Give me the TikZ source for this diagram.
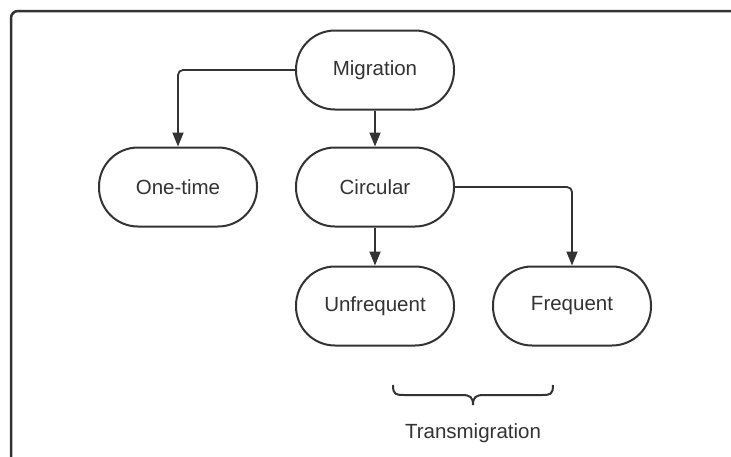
\documentclass[tikz,border=0pt]{standalone}
\usepackage{fontspec}
\setmainfont{Liberation Sans}
\usetikzlibrary{arrows.meta}
\definecolor{ink}{HTML}{333333}
\begin{document}
\begin{tikzpicture}[x=1pt,y=-1pt,
  pill/.style={draw=ink,line width=2pt,rounded corners=39pt,minimum width=158pt,minimum height=79pt,inner sep=0pt,text=ink,font=\fontsize{20.5}{24}\selectfont},
  conn/.style={draw=ink,line width=1.8pt,rounded corners=5pt,-{Triangle[length=14pt,width=11pt]}},
  lbl/.style={text=ink,font=\fontsize{20.5}{24}\selectfont}]
\useasboundingbox (0,0) rectangle (731,456);
\clip (0,0) rectangle (731,456);
\fill[white] (0,0) rectangle (731,456);
\draw[ink,line width=2.5pt,rounded corners=7pt] (11,11) rectangle (760,490);
\node[pill] (mig) at (375,70) {Migration};
\node[pill] (one) at (178,187) {One-time};
\node[pill] (circ) at (375,187) {Circular};
\node[pill] (unf) at (375,306) {Unfrequent};
\node[pill] (freq) at (572,306) {Frequent};
\draw[conn] (mig.west) -| (one.north);
\draw[conn] (mig.south) -- (circ.north);
\draw[conn] (circ.east) -| (freq.north);
\draw[conn] (circ.south) -- (unf.north);
\coordinate (bl) at (393,385);
\coordinate (br) at (553,385);
\coordinate (bt) at (473,405);
\draw[ink,line width=2pt] (bl) .. controls (393,395) and (396,395) .. (405,395) -- (462,395) .. controls (470,395) and (473,397) .. (bt)
  .. controls (473,397) and (476,395) .. (484,395) -- (541,395) .. controls (550,395) and (553,395) .. (br);
\node[lbl] (tm) at (473,433) {Transmigration};
\end{tikzpicture}
\end{document}
